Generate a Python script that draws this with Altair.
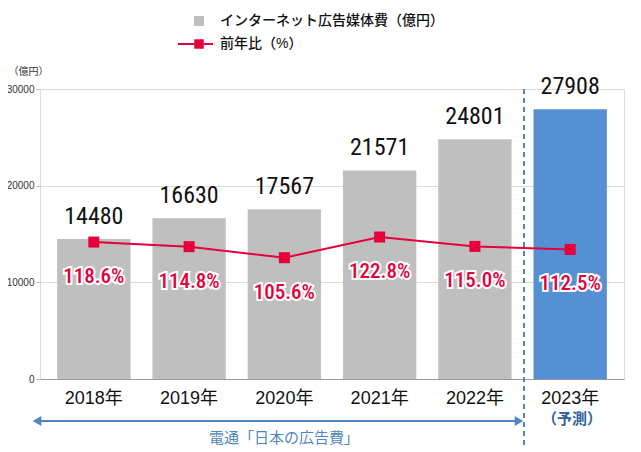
import altair as alt
import pandas as pd

years = ["2018年", "2019年", "2020年", "2021年", "2022年", "2023年"]
spend = [14480, 16630, 17567, 21571, 24801, 27908]
yoy = [118.6, 114.8, 105.6, 122.8, 115.0, 112.5]
kind = ["actual", "actual", "actual", "actual", "actual", "forecast"]
yoy_labels = ["118.6%", "114.8%", "105.6%", "122.8%", "115.0%", "112.5%"]

legend_bar = "インターネット広告媒体費（億円）"
legend_line = "前年比（%）"
source_text = "電通「日本の広告費」"
forecast_text = "（予測）"
unit_text = "（億円）"

RED = "#e6003b"
GRAY = "#bfbfbf"
BLUE = "#5590d5"
ARROW = "#4f86c6"
JP = "Liberation Sans, Noto Sans CJK JP"
NARROW = "Roboto Condensed, Liberation Sans Narrow, DejaVu Sans Condensed, Roboto"

df = pd.DataFrame({"year": years, "spend": spend, "yoy": yoy, "kind": kind, "yoy_label": yoy_labels})

W, H = 584, 290

X = alt.X("year:N", sort=years, title=None,
          scale=alt.Scale(paddingInner=0.23, paddingOuter=0.18),
          axis=alt.Axis(labelAngle=0, labelFontSize=18, labelFont=JP, labelColor="#111",
                        labelPadding=10, ticks=False, domainColor="#999", domainWidth=1.2))

YS = alt.Scale(domain=[0, 30000])
PS = alt.Scale(domain=[4.8, 245.8])

base = alt.Chart(df)

bars = base.mark_bar().encode(
    x=X,
    y=alt.Y("spend:Q", scale=YS, title=unit_text,
            axis=alt.Axis(values=[0, 10000, 20000, 30000], format="d", labelFontSize=10,
                          labelColor="#333", labelFont="Liberation Sans", tickSize=4,
                          tickColor="#bbb", labelPadding=2, domain=False,
                          gridColor="#d9d9d9", titleAngle=0, titleAlign="left",
                          titleX=-32, titleY=-13, titleFontSize=10, titleFontWeight="normal",
                          titleColor="#333", titleFont=JP)),
    color=alt.Color("kind:N", scale=alt.Scale(domain=["actual", "forecast"], range=[GRAY, BLUE]),
                    legend=None),
)

value_labels = base.mark_text(font=NARROW, fontSize=24, color="#111", baseline="alphabetic",
                              dy=-15).encode(
    x=X, y=alt.Y("spend:Q", scale=YS, axis=None), text="spend:Q")

line = base.mark_line(color=RED, strokeWidth=2).encode(
    x=X, y=alt.Y("yoy:Q", scale=PS, axis=None))
pts = base.mark_square(color=RED, size=121, opacity=1).encode(
    x=X, y=alt.Y("yoy:Q", scale=PS, axis=None))
pct_outline = base.mark_text(font=NARROW, fontSize=21, fontWeight=500, color="white",
                             stroke="white", strokeWidth=4, baseline="alphabetic", dy=41).encode(
    x=X, y=alt.Y("yoy:Q", scale=PS, axis=None), text="yoy_label:N")
pct_text = base.mark_text(font=NARROW, fontSize=21, fontWeight=500, color=RED,
                          baseline="alphabetic", dy=41).encode(
    x=X, y=alt.Y("yoy:Q", scale=PS, axis=None), text="yoy_label:N")

# decorations
one = pd.DataFrame({"a": [0]})
sep = alt.Chart(one).mark_rule(color=ARROW, strokeWidth=2, strokeDash=[5, 4]).encode(
    x=alt.value(484), y=alt.value(0), y2=alt.value(362))
arrow_line = alt.Chart(one).mark_rule(color=ARROW, strokeWidth=2).encode(
    x=alt.value(-2), x2=alt.value(478), y=alt.value(332))
arrow_l = alt.Chart(one).mark_point(shape="triangle-left", filled=True, color=ARROW, size=100,
                                    opacity=1).encode(x=alt.value(-3), y=alt.value(332))
arrow_r = alt.Chart(one).mark_point(shape="triangle-right", filled=True, color=ARROW, size=100,
                                    opacity=1).encode(x=alt.value(479), y=alt.value(332))
src = alt.Chart(pd.DataFrame({"t": [source_text]})).mark_text(
    font=JP, fontSize=15, color=ARROW).encode(x=alt.value(244), y=alt.value(349), text="t:N")
fc = alt.Chart(pd.DataFrame({"t": [forecast_text]})).mark_text(
    font=JP, fontSize=15, color="#2f5f9e", fontWeight="bold").encode(
    x=alt.value(532), y=alt.value(330), text="t:N")

leg_sq = alt.Chart(one).mark_square(color=GRAY, size=100, opacity=1).encode(
    x=alt.value(159), y=alt.value(-68))
leg_t1 = alt.Chart(pd.DataFrame({"t": [legend_bar]})).mark_text(
    font=JP, fontSize=14, color="#111", align="left", fontWeight=500).encode(
    x=alt.value(180), y=alt.value(-68), text="t:N")
leg_ln = alt.Chart(one).mark_rule(color=RED, strokeWidth=2).encode(
    x=alt.value(138), x2=alt.value(173), y=alt.value(-45))
leg_pt = alt.Chart(one).mark_square(color=RED, size=90, opacity=1).encode(
    x=alt.value(159), y=alt.value(-45))
leg_t2 = alt.Chart(pd.DataFrame({"t": [legend_line]})).mark_text(
    font=JP, fontSize=14, color="#111", align="left", fontWeight=500).encode(
    x=alt.value(180), y=alt.value(-45), text="t:N")

chart = alt.layer(
    bars, value_labels, line, pts, pct_outline, pct_text,
    sep, arrow_line, arrow_l, arrow_r, src, fc,
    leg_sq, leg_t1, leg_ln, leg_pt, leg_t2,
).resolve_scale(y="independent").properties(
    width=W, height=H,
    autosize=alt.AutoSizeParams(type="none"),
    padding={"left": 32, "top": 81, "right": 9, "bottom": 70},
).configure_view(stroke=None).configure(background="white")

chart.save("out.html", embed_options={"renderer": "svg", "actions": False})
